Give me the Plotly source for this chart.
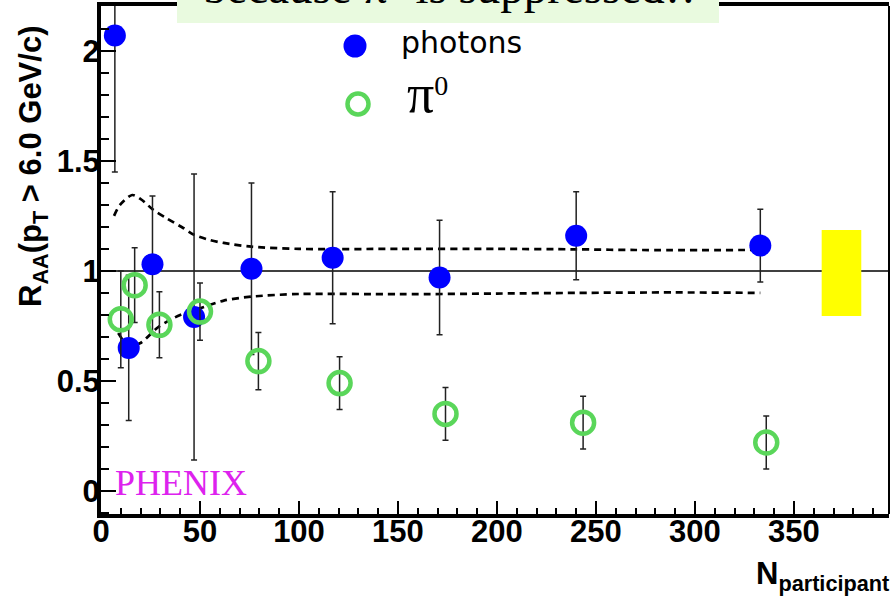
import plotly.graph_objects as go

# ---------------- data ----------------
ph_npart = [7, 14, 26, 47, 76, 117, 171, 240, 333]
ph_raa = [2.07, 0.65, 1.03, 0.79, 1.01, 1.06, 0.97, 1.16, 1.115]
ph_err = [0.62, 0.33, 0.31, 0.65, 0.39, 0.30, 0.26, 0.20, 0.165]

pi_npart = [10, 17, 29.5, 50, 79.5, 120.5, 174, 243.5, 336]
pi_raa = [0.78, 0.935, 0.755, 0.815, 0.59, 0.49, 0.35, 0.31, 0.22]
pi_err = [0.22, 0.17, 0.15, 0.13, 0.13, 0.12, 0.12, 0.12, 0.12]

band_hi_n = [6.6, 9.6, 15.8, 21, 26.4, 33, 41.5, 47, 55, 62, 76, 100, 151, 200, 240, 270, 333]
band_hi = [1.25, 1.30, 1.345, 1.32, 1.277, 1.24, 1.195, 1.164, 1.14, 1.127, 1.11, 1.10, 1.10, 1.10, 1.098, 1.095, 1.095]

band_lo_n = [8.7, 11.5, 14, 19.7, 29, 40, 50, 62, 76, 100, 151, 200, 240, 290, 333]
band_lo = [0.717, 0.68, 0.66, 0.671, 0.745, 0.80, 0.83, 0.865, 0.883, 0.895, 0.894, 0.897, 0.90, 0.902, 0.90]

norm_box_n = [364, 384]
norm_box_raa = [0.795, 1.186]
ref_level = 1.0

x_ticks = [0, 50, 100, 150, 200, 250, 300, 350]
x_ticktext = ["0", "50", "100", "150", "200", "250", "300", "350"]
y_ticks = [0, 0.5, 1, 1.5, 2]
y_ticktext = ["0", "0.5", "1", "1.5", "2"]
x_range = [0, 398]
y_range = [-0.105, 2.204]

# ---------------- layout helpers ----------------
W, H = 891, 600
ML, MR, MT, MB = 101, 2, 6, 86
PW, PH = W - ML - MR, H - MT - MB


def pxx(q):
    return (q - ML) / PW


def pxy(p):
    return (H - MB - p) / PH


BLUE = "#0000ff"
GREEN = "#5ad65a"
SANSB = "Liberation Sans Narrow, Liberation Sans, Arial, sans-serif"
SANS = "Liberation Sans, Arial, sans-serif"
SERIF = "Liberation Serif, Times New Roman, serif"

fig = go.Figure()

fig.add_trace(go.Scatter(x=band_hi_n, y=band_hi, mode="lines",
                         line=dict(color="black", width=2.7, dash="7px,5px", shape="spline", smoothing=0.8),
                         showlegend=False, hoverinfo="skip"))
fig.add_trace(go.Scatter(x=band_lo_n, y=band_lo, mode="lines",
                         line=dict(color="black", width=2.7, dash="7px,5px", shape="spline", smoothing=0.8),
                         showlegend=False, hoverinfo="skip"))

fig.add_trace(go.Scatter(x=ph_npart, y=ph_raa, mode="markers", name="photons",
                         marker=dict(symbol="circle", size=22, color=BLUE, line=dict(width=0)),
                         error_y=dict(type="data", array=ph_err, color="#222222", thickness=1.5, width=3),
                         showlegend=False))
fig.add_trace(go.Scatter(x=pi_npart, y=pi_raa, mode="markers", name="π0",
                         marker=dict(symbol="circle-open", size=22, color=GREEN, line=dict(width=4.5, color=GREEN)),
                         error_y=dict(type="data", array=pi_err, color="#222222", thickness=1.5, width=3),
                         showlegend=False))

shapes = [
    dict(type="line", xref="paper", yref="y", x0=0, x1=1, y0=ref_level, y1=ref_level,
         line=dict(color="black", width=1.5), layer="below"),
    dict(type="rect", xref="x", yref="y", x0=norm_box_n[0], x1=norm_box_n[1],
         y0=norm_box_raa[0], y1=norm_box_raa[1], fillcolor="#ffff00", line=dict(width=0), layer="below"),
    # thin right frame
    dict(type="line", xref="paper", yref="paper", x0=1, x1=1, y0=0, y1=1,
         line=dict(color="black", width=2), layer="above"),
    # title box (light green)
    dict(type="rect", xref="paper", yref="paper", x0=pxx(177), x1=pxx(719), y0=pxy(23), y1=pxy(-20),
         fillcolor="#e9fadf", line=dict(width=0), layer="above"),
    # legend symbols
    dict(type="circle", xref="paper", yref="paper", xsizemode="pixel", ysizemode="pixel",
         xanchor=pxx(355), yanchor=pxy(46), x0=-11.5, x1=11.5, y0=-11.5, y1=11.5,
         fillcolor=BLUE, line=dict(width=0), layer="above"),
    dict(type="circle", xref="paper", yref="paper", xsizemode="pixel", ysizemode="pixel",
         xanchor=pxx(358), yanchor=pxy(104), x0=-10.5, x1=10.5, y0=-10.5, y1=10.5,
         fillcolor="rgba(0,0,0,0)", line=dict(width=4.5, color=GREEN), layer="above"),
]


def ann(text, xq, yc, size, family, color="black", xanchor="left", angle=0, bold=False):
    return dict(text=text, xref="paper", yref="paper", x=pxx(xq), y=pxy(yc), xanchor=xanchor,
                yanchor="middle", showarrow=False, textangle=angle,
                font=dict(size=size, family=family, color=color, weight="bold" if bold else "normal"))


annotations = [
    ann("because π<sup>0</sup> is suppressed!!", 449, 12.5 - 0.34 * 47 - 13, 47, SERIF, xanchor="center"),
    ann("photons", 399, 53 - 0.346 * 30, 30, "DejaVu Sans, sans-serif"),
    ann("<span style='font-size:54px'>π</span><sup>0</sup>", 405, 94, 40, SERIF),
    ann("PHENIX", 113, 495 - 0.34 * 36, 36, SERIF, color="#dd22ee"),
    ann("R<sub>AA</sub>(p<sub>T</sub> &gt; 6.0 GeV/c)", 33, 167, 31, SANS, xanchor="center", angle=-90, bold=True),
    ann("N<sub>participant</sub>", 891, 576, 31, SANS, xanchor="right", bold=True),
]

fig.update_layout(
    width=W, height=H,
    margin=dict(l=ML, r=MR, t=MT, b=MB, pad=0),
    paper_bgcolor="white", plot_bgcolor="white",
    showlegend=False,
    shapes=shapes, annotations=annotations,
    xaxis=dict(range=x_range, tickmode="array", tickvals=x_ticks, ticktext=x_ticktext,
               ticks="inside", ticklen=13, tickwidth=1.5, tickcolor="black", ticklabelstandoff=-13,
               minor=dict(tickmode="linear", tick0=0, dtick=10, ticks="inside", ticklen=6, tickwidth=1.5, tickcolor="black"),
               showline=True, linewidth=4, linecolor="black", mirror=True,
               showgrid=False, zeroline=False,
               tickfont=dict(family=SANSB, size=31, color="black", weight="bold")),
    yaxis=dict(range=y_range, tickmode="array", tickvals=y_ticks, ticktext=y_ticktext,
               ticks="inside", ticklen=15, tickwidth=1.5, tickcolor="black", ticklabelstandoff=-9,
               minor=dict(tickmode="linear", tick0=0, dtick=0.1, ticks="inside", ticklen=8, tickwidth=1.5, tickcolor="black"),
               showline=True, linewidth=4, linecolor="black", mirror=False,
               showgrid=False, zeroline=False,
               tickfont=dict(family=SANSB, size=31, color="black", weight="bold")),
)

fig.write_html("out.html")
